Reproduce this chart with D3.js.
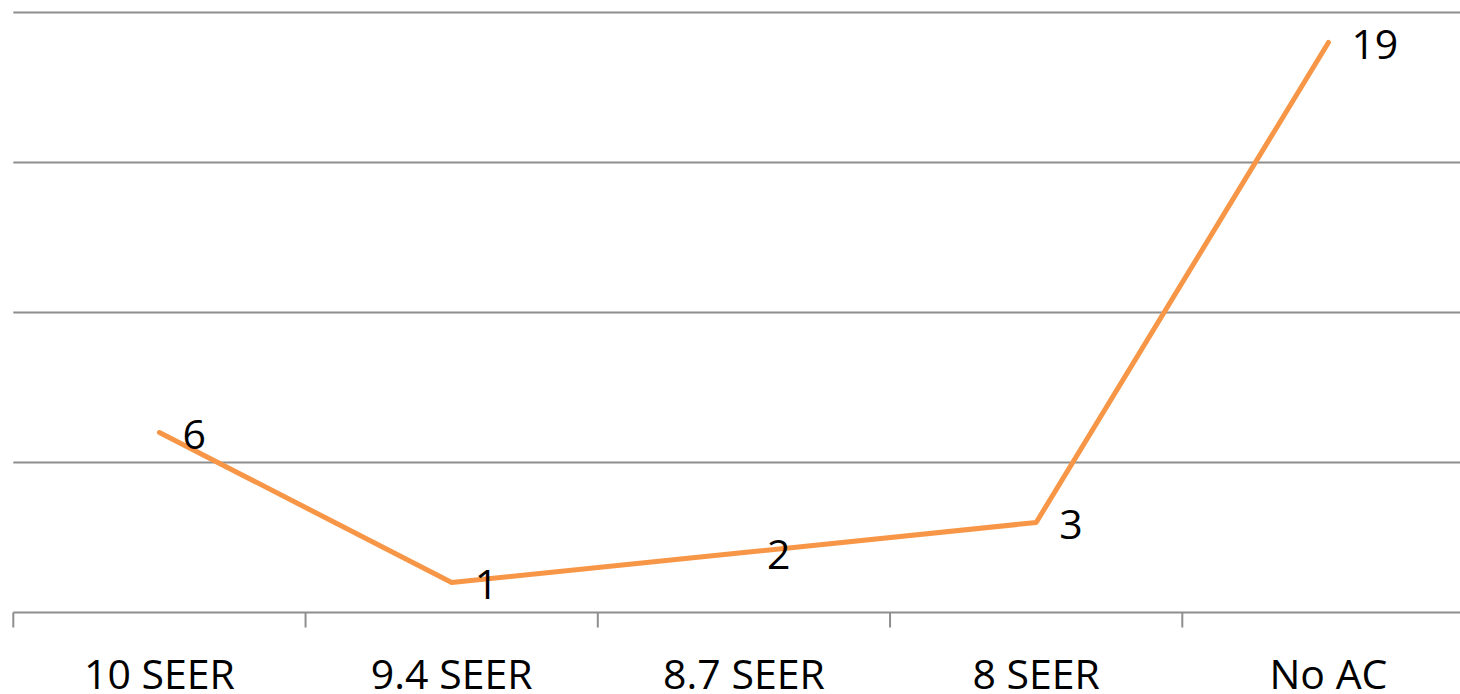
<!DOCTYPE html>
<html><head><meta charset="utf-8">
<script src="https://cdn.jsdelivr.net/npm/d3@7"></script>
<style>html,body{margin:0;padding:0;background:#fff;overflow:hidden}</style>
</head><body>
<svg id="chart" width="1460" height="694"></svg>
<script>
const categories = ["10 SEER", "9.4 SEER", "8.7 SEER", "8 SEER", "No AC"];
const values = [6, 1, 2, 3, 19];
const yTicks = [0, 5, 10, 15, 20];

const svg = d3.select("#chart");
const left = 13.3, band = 292.25;
const x = d3.scaleBand().domain(categories).range([left, left + band * categories.length]).paddingInner(0).paddingOuter(0);
const y = d3.scaleLinear().domain([0, 20]).range([612.5, 12.5]);
const font = "'Open Sans', sans-serif";

// gridlines
svg.append("g").selectAll("line").data(yTicks.filter(d => d > 0)).join("line")
  .attr("x1", left).attr("x2", 1460)
  .attr("y1", d => y(d)).attr("y2", d => y(d))
  .attr("stroke", "#8e8e8e").attr("stroke-width", 2);

// x axis
const xAxis = d3.axisBottom(x).tickSize(0).tickPadding(0);
const gx = svg.append("g").attr("transform", `translate(0,${y(0)})`).call(xAxis);
gx.select(".domain").remove();
gx.selectAll("text").attr("font-family", font).attr("font-size", 41).attr("fill", "#000")
  .attr("dy", null).attr("y", 76);
gx.append("line").attr("x1", left).attr("x2", 1460).attr("y1", 0).attr("y2", 0)
  .attr("stroke", "#8e8e8e").attr("stroke-width", 2);
gx.selectAll(".sep").data(categories).join("line").attr("class", "sep")
  .attr("x1", d => x(d)).attr("x2", d => x(d)).attr("y1", 0).attr("y2", 15)
  .attr("stroke", "#8e8e8e").attr("stroke-width", 2);

// line
const data = categories.map((c, i) => ({c, v: values[i]}));
const line = d3.line().x(d => x(d.c) + x.bandwidth() / 2).y(d => y(d.v));
svg.append("path").datum(data).attr("d", line)
  .attr("fill", "none").attr("stroke", "#F79646").attr("stroke-width", 5)
  .attr("stroke-linejoin", "round").attr("stroke-linecap", "round");

// labels
svg.append("g").selectAll("text").data(data).join("text")
  .attr("x", d => x(d.c) + x.bandwidth() / 2 + 23)
  .attr("y", d => y(d.v) + 16)
  .attr("font-family", font).attr("font-size", 41).attr("fill", "#000")
  .text(d => d.v);
</script>
</body></html>
